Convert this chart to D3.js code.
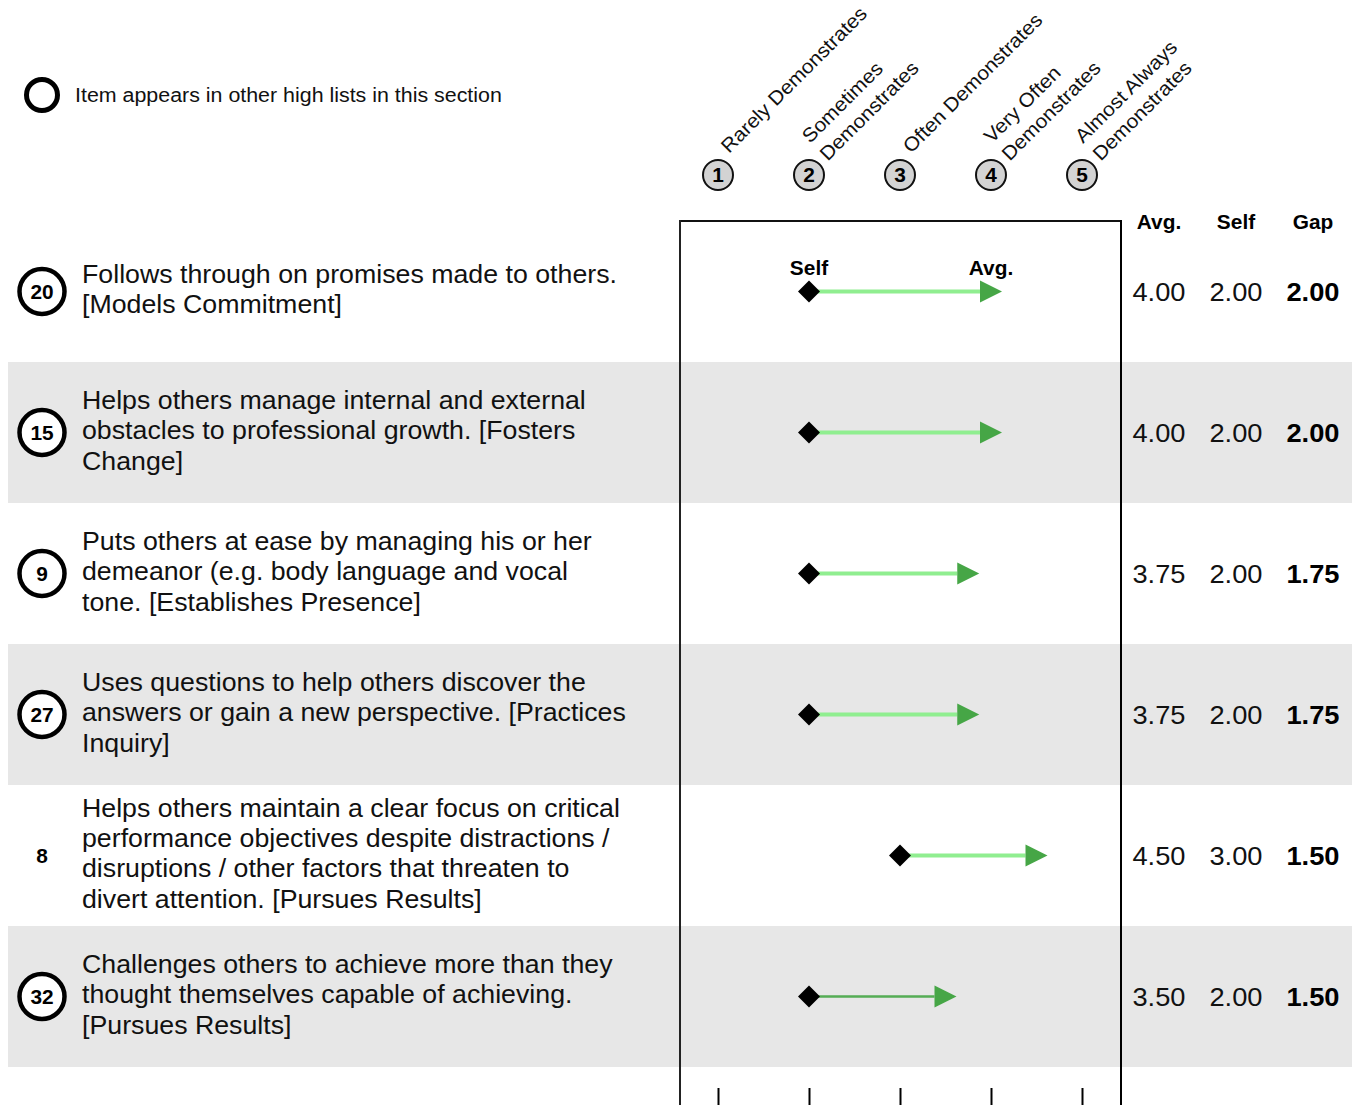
<!DOCTYPE html>
<html>
<head>
<meta charset="utf-8">
<script src="https://cdn.jsdelivr.net/npm/d3@7"></script>
<style>
  html, body { margin: 0; padding: 0; background: #fff; }
  svg { display: block; font-family: "Liberation Sans", Arial, Helvetica, sans-serif; }
</style>
</head>
<body>
<svg id="chart" width="1353" height="1105"></svg>
<script>
// ---------- data ----------
const itemNumbers = [20, 15, 9, 27, 8, 32];
const inOtherLists = [true, true, true, true, false, true];
const itemTexts = [
  ["Follows through on promises made to others.", "[Models Commitment]"],
  ["Helps others manage internal and external", "obstacles to professional growth. [Fosters", "Change]"],
  ["Puts others at ease by managing his or her", "demeanor (e.g. body language and vocal", "tone. [Establishes Presence]"],
  ["Uses questions to help others discover the", "answers or gain a new perspective. [Practices", "Inquiry]"],
  ["Helps others maintain a clear focus on critical", "performance objectives despite distractions /", "disruptions / other factors that threaten to", "divert attention. [Pursues Results]"],
  ["Challenges others to achieve more than they", "thought themselves capable of achieving.", "[Pursues Results]"]
];
const avgValues = [4.00, 4.00, 3.75, 3.75, 4.50, 3.50];
const selfValues = [2.00, 2.00, 2.00, 2.00, 3.00, 2.00];
const gapValues = [2.00, 2.00, 1.75, 1.75, 1.50, 1.50];
const scaleValues = [1, 2, 3, 4, 5];
const scaleLabels = [
  ["Rarely Demonstrates"],
  ["Sometimes", "Demonstrates"],
  ["Often Demonstrates"],
  ["Very Often", "Demonstrates"],
  ["Almost Always", "Demonstrates"]
];
const columnHeaders = ["Avg.", "Self", "Gap"];
const legendText = "Item appears in other high lists in this section";

// ---------- layout ----------
const svg = d3.select("#chart");
const W = 1353, H = 1105;
const SX = 1.07; // horizontal glyph stretch to match reference text widths
const x = d3.scaleLinear().domain([1, 5]).range([718, 1082]);
const y = d3.scaleBand().domain(d3.range(itemNumbers.length)).range([221, 1067]);
const colX = d3.scalePoint().domain(columnHeaders).range([1159, 1313]);
const frameL = 680, frameR = 1121, frameT = 221;

function stretchedText(sel, tx, ty, anchor) {
  return sel.append("text")
    .attr("transform", `translate(${tx},${ty}) scale(${SX},1)`)
    .attr("text-anchor", anchor || "start");
}

// row bands
svg.append("g").selectAll("rect")
  .data(d3.range(itemNumbers.length).filter(i => i % 2 === 1))
  .join("rect")
  .attr("x", 8).attr("width", W - 9)
  .attr("y", i => y(i)).attr("height", y.bandwidth())
  .attr("fill", "#e7e7e7");

// frame
svg.append("line").attr("x1", frameL).attr("x2", frameR).attr("y1", frameT).attr("y2", frameT)
  .attr("stroke", "#111").attr("stroke-width", 2);
svg.append("line").attr("x1", frameL).attr("x2", frameL).attr("y1", frameT - 1).attr("y2", H)
  .attr("stroke", "#222").attr("stroke-width", 2);
svg.append("line").attr("x1", frameR).attr("x2", frameR).attr("y1", frameT - 1).attr("y2", H)
  .attr("stroke", "#000").attr("stroke-width", 2);

// bottom ticks
const axis = d3.axisBottom(x).tickValues(scaleValues).tickSize(17).tickFormat("");
const ax = svg.append("g").attr("transform", `translate(0,1088)`).call(axis);
ax.select(".domain").remove();
ax.selectAll(".tick line").attr("stroke", "#000").attr("stroke-width", 2);

// legend
svg.append("circle").attr("cx", 42).attr("cy", 95).attr("r", 15.5)
  .attr("fill", "none").attr("stroke", "#000").attr("stroke-width", 5);
stretchedText(svg, 75, 102).attr("font-size", 20).attr("fill", "#111").text(legendText);

// scale header circles
const hdr = svg.append("g").selectAll("g").data(scaleValues).join("g")
  .attr("transform", d => `translate(${x(d)},175)`);
hdr.append("circle").attr("r", 15).attr("fill", "#d3d3d3").attr("stroke", "#111").attr("stroke-width", 2);
hdr.append("text").attr("text-anchor", "middle").attr("y", 7).attr("font-size", 19.5)
  .attr("transform", `scale(${SX},1)`)
  .attr("font-weight", "bold").text(d => d);

// rotated scale labels
const lbl = svg.append("g").selectAll("text").data(scaleValues).join("text")
  .attr("font-size", 19.6).attr("fill", "#111")
  .attr("transform", (d, i) => {
    const n = scaleLabels[i].length;
    const ox = n === 1 ? x(d) + 11 : x(d) + 1;
    const oy = n === 1 ? 154 : 144;
    return `translate(${ox},${oy}) rotate(-45) scale(${SX},1)`;
  });
lbl.selectAll("tspan").data((d, i) => scaleLabels[i]).join("tspan")
  .attr("x", 0).attr("dy", (t, j) => j === 0 ? 0 : 25).text(t => t);

// column headers
svg.append("g").selectAll("text").data(columnHeaders).join("text")
  .attr("transform", d => `translate(${colX(d)},229) scale(${SX},1)`)
  .attr("text-anchor", "middle")
  .attr("font-size", 19.5).attr("font-weight", "bold").text(d => d);

// rows
const rows = svg.append("g").selectAll("g").data(d3.range(itemNumbers.length)).join("g")
  .attr("transform", i => `translate(0,${y(i) + y.bandwidth() / 2})`);

// item number badge
rows.filter(i => inOtherLists[i]).append("circle")
  .attr("cx", 42).attr("r", 22.5).attr("fill", "#fff").attr("stroke", "#000").attr("stroke-width", 4.5);
rows.append("text")
  .attr("transform", `translate(42,7) scale(${SX},1)`)
  .attr("text-anchor", "middle")
  .attr("font-size", 19.5).attr("font-weight", "bold").text(i => itemNumbers[i]);

// item text
const lineH = 30.4;
rows.append("text").attr("font-size", 25).attr("fill", "#111")
  .attr("transform", `translate(82,0) scale(${SX},1)`)
  .selectAll("tspan").data(i => itemTexts[i].map((t, j) => ({ t, j, n: itemTexts[i].length })))
  .join("tspan")
  .attr("x", 0)
  .attr("y", d => -2 + (d.j - (d.n - 1) / 2) * lineH + 8.7)
  .text(d => d.t);

// connector lines
const connectorColor = i => i === itemNumbers.length - 1 ? "#55ad55" : "#90ee90";
const connectorWidth = i => i === itemNumbers.length - 1 ? 2.5 : 4;
rows.append("line")
  .attr("x1", i => x(selfValues[i])).attr("x2", i => x(avgValues[i]) - 11)
  .attr("stroke", connectorColor).attr("stroke-width", connectorWidth);

// arrow heads (avg)
rows.append("path")
  .attr("d", i => {
    const cx = x(avgValues[i]);
    return `M${cx - 11},-11 L${cx + 11},0 L${cx - 11},11 Z`;
  })
  .attr("fill", "#46a646");

// diamonds (self)
rows.append("path")
  .attr("d", i => {
    const cx = x(selfValues[i]);
    return `M${cx},-11 L${cx + 11},0 L${cx},11 L${cx - 11},0 Z`;
  })
  .attr("fill", "#000");

// Self / Avg labels on first row
const first = rows.filter(i => i === 0);
first.append("text")
  .attr("transform", i => `translate(${x(selfValues[i])},-17) scale(${SX},1)`)
  .attr("text-anchor", "middle")
  .attr("font-size", 19.5).attr("font-weight", "bold").text(columnHeaders[1]);
first.append("text")
  .attr("transform", i => `translate(${x(avgValues[i])},-17) scale(${SX},1)`)
  .attr("text-anchor", "middle")
  .attr("font-size", 19.5).attr("font-weight", "bold").text(columnHeaders[0]);

// value columns
const valueCols = [
  { key: "Avg.", vals: avgValues, bold: false },
  { key: "Self", vals: selfValues, bold: false },
  { key: "Gap", vals: gapValues, bold: true }
];
valueCols.forEach(c => {
  rows.append("text")
    .attr("transform", `translate(${colX(c.key)},9) scale(${SX},1)`)
    .attr("text-anchor", "middle")
    .attr("font-size", 25.5).attr("fill", c.bold ? "#000" : "#111")
    .attr("font-weight", c.bold ? "bold" : "normal")
    .text(i => c.vals[i].toFixed(2));
});
</script>
</body>
</html>
